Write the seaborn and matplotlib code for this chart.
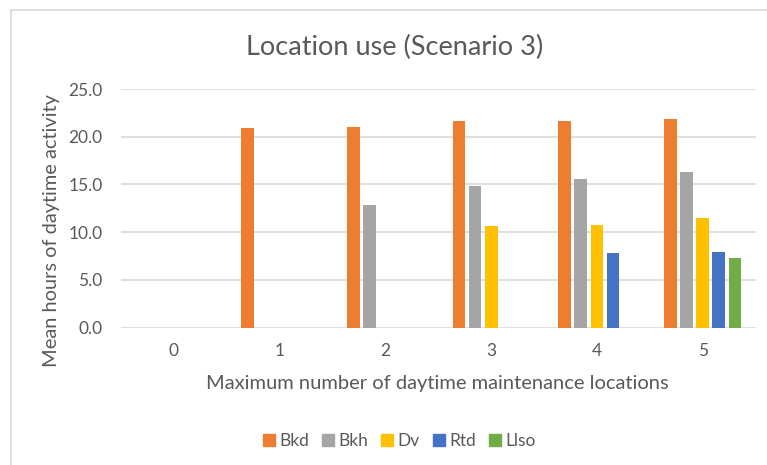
import numpy as np
import pandas as pd
import matplotlib
matplotlib.use("Agg")
import matplotlib.pyplot as plt
from matplotlib.lines import Line2D
import seaborn as sns

# Data: mean hours of daytime activity per location, by max number of locations
categories = ["0", "1", "2", "3", "4", "5"]
series = ["Bkd", "Bkh", "Dv", "Rtd", "Llso"]
bkd = [np.nan, 20.9, 21.0, 21.7, 21.7, 21.9]
bkh = [np.nan, np.nan, 12.8, 14.8, 15.6, 16.3]
dv = [np.nan, np.nan, np.nan, 10.6, 10.8, 11.5]
rtd = [np.nan, np.nan, np.nan, np.nan, 7.8, 7.9]
llso = [np.nan, np.nan, np.nan, np.nan, np.nan, 7.3]
yticks = [0.0, 5.0, 10.0, 15.0, 20.0, 25.0]

colors = ["#ED7D31", "#A5A5A5", "#FFC000", "#4472C4", "#70AD47"]
text_color = "#595959"
grid_color = "#D9D9D9"

values = {"Bkd": bkd, "Bkh": bkh, "Dv": dv, "Rtd": rtd, "Llso": llso}
rows = []
for name in series:
    for cat, v in zip(categories, values[name]):
        rows.append({"locations": cat, "series": name, "hours": v})
df = pd.DataFrame(rows)

sns.set_theme(style="white")
plt.rcParams["font.family"] = ["Lato", "DejaVu Sans"]

W, H = 767, 465
fig = plt.figure(figsize=(W / 100, H / 100), dpi=100)
ax_left, ax_right, ax_top, ax_bottom = 120.7, 755.7, 89.0, 327.7
ax = fig.add_axes([ax_left / W, 1 - ax_bottom / H,
                   (ax_right - ax_left) / W, (ax_bottom - ax_top) / H])

sns.barplot(data=df, x="locations", y="hours", hue="series",
            order=categories, hue_order=series, palette=colors,
            width=0.76, gap=0.2, saturation=1, errorbar=None,
            linewidth=0, ax=ax)

ax.set_xlim(-0.5, len(categories) - 0.5)
ax.set_ylim(0, 25)
ax.set_yticks(yticks)
ax.set_yticklabels([f"{t:.1f}" for t in yticks])
for y in yticks:
    ax.axhline(y, color=grid_color, linewidth=1.2, zorder=0)
for s in ax.spines.values():
    s.set_visible(False)
ax.tick_params(axis="both", length=0, labelsize=12.5, colors=text_color)
ax.tick_params(axis="y", pad=13)
ax.tick_params(axis="x", pad=11)
ax.set_xlabel("")
ax.set_ylabel("")

# axis titles, title and legend placed in figure pixels
def fx(px):
    return px / W

def fy(py):
    return 1 - py / H

fig.text(fx(437), fy(383), "Maximum number of daytime maintenance locations",
         ha="center", va="center", fontsize=14.5, color=text_color)
fig.text(fx(52), fy(231), "Mean hours of daytime activity", rotation=90,
         ha="center", va="center", fontsize=14.4, color=text_color)
fig.text(fx(395), fy(47), "Location use (Scenario 3)", ha="center",
         va="center", fontsize=19.5, color=text_color)

ax.get_legend().remove()
proxies = [Line2D([], [], marker="s", linestyle="none", markersize=8,
                  markerfacecolor=c, markeredgecolor=c) for c in colors]
fig.legend(proxies, series, loc="center", bbox_to_anchor=(fx(398), fy(441)),
           ncol=5, frameon=False, fontsize=12.5, labelcolor=text_color,
           handletextpad=0.1, columnspacing=0.6, handlelength=1.0)

# chart frame edges
fig.add_artist(Line2D([fx(10.5), fx(10.5)], [0, fy(10.5)], color=grid_color, linewidth=1.2))
fig.add_artist(Line2D([fx(10.5), 1], [fy(10.5), fy(10.5)], color=grid_color, linewidth=1.2))

fig.savefig("out.png", dpi=100, facecolor="white")
